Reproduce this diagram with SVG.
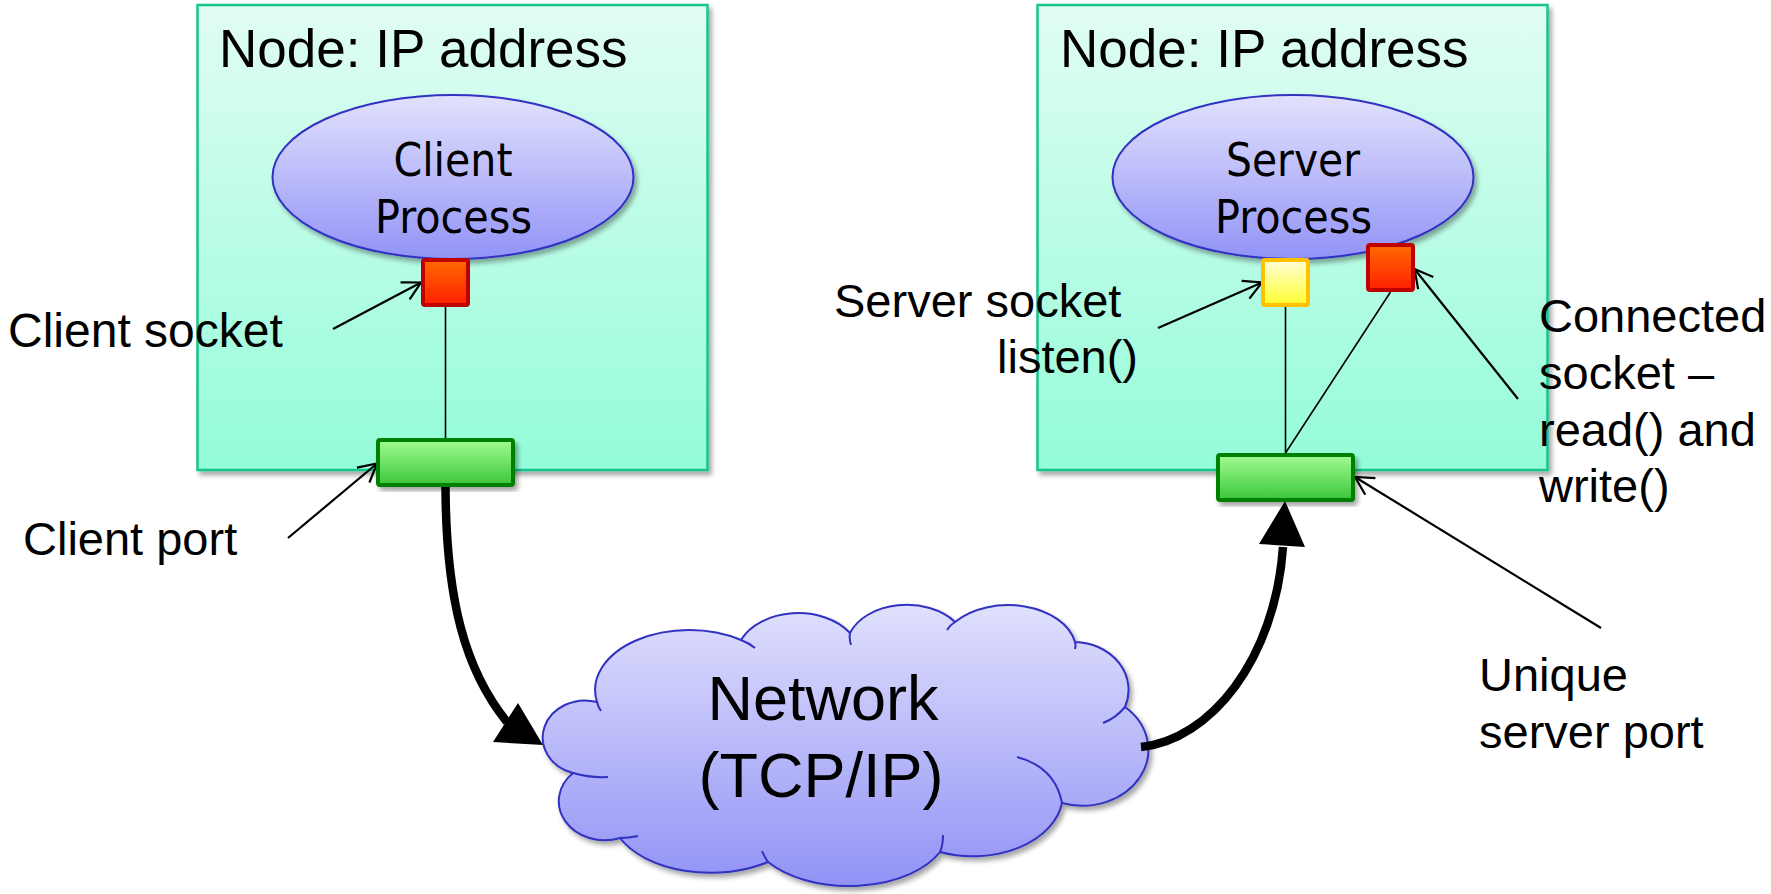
<svg xmlns="http://www.w3.org/2000/svg" width="1771" height="894" viewBox="0 0 1771 894">
  <defs>
    <linearGradient id="gBox" x1="0" y1="0" x2="0" y2="1">
      <stop offset="0" stop-color="#e1fdf3"/>
      <stop offset="1" stop-color="#93fcd8"/>
    </linearGradient>
    <linearGradient id="gProc" x1="0" y1="0" x2="0" y2="1">
      <stop offset="0" stop-color="#e2e2fd"/>
      <stop offset="1" stop-color="#9393f7"/>
    </linearGradient>
    <linearGradient id="gCloud" x1="0" y1="0" x2="0" y2="1">
      <stop offset="0" stop-color="#e0e0fd"/>
      <stop offset="1" stop-color="#9292f6"/>
    </linearGradient>
    <linearGradient id="gRed" x1="0" y1="0" x2="0" y2="1">
      <stop offset="0" stop-color="#ff6a00"/>
      <stop offset="1" stop-color="#ff2000"/>
    </linearGradient>
    <linearGradient id="gYel" x1="0" y1="0" x2="0" y2="1">
      <stop offset="0" stop-color="#ffffd8"/>
      <stop offset="1" stop-color="#ffff30"/>
    </linearGradient>
    <linearGradient id="gPort" x1="0" y1="0" x2="0" y2="1">
      <stop offset="0" stop-color="#a2fc92"/>
      <stop offset="1" stop-color="#3ac63a"/>
    </linearGradient>
    <filter id="shadow" x="-5%" y="-5%" width="115%" height="120%">
      <feGaussianBlur in="SourceAlpha" stdDeviation="2.5"/>
      <feOffset dx="3" dy="4" result="off"/>
      <feComponentTransfer>
        <feFuncA type="linear" slope="0.35"/>
      </feComponentTransfer>
      <feMerge>
        <feMergeNode/>
        <feMergeNode in="SourceGraphic"/>
      </feMerge>
    </filter>
    <marker id="open" markerUnits="userSpaceOnUse" viewBox="-21 -12 23 24" markerWidth="23" markerHeight="24" refX="0" refY="0" orient="auto" overflow="visible">
      <path d="M-18,-9.7 L0,0 L-18,9.7" fill="none" stroke="#000" stroke-width="2.2"/>
    </marker>
  </defs>
  <style>
    .box { fill: url(#gBox); stroke: #17c48e; stroke-width: 2.5; filter: url(#shadow); }
    .proc { fill: url(#gProc); stroke: #3030c2; stroke-width: 2; filter: url(#shadow); }
    .sock-red { fill: url(#gRed); stroke: #c00000; stroke-width: 4; }
    .sock-yel { fill: url(#gYel); stroke: #ffc000; stroke-width: 4; }
    .port { fill: url(#gPort); stroke: #008000; stroke-width: 4; filter: url(#shadow); }
    .cloud { fill: url(#gCloud); stroke: #3030c2; stroke-width: 2; filter: url(#shadow); }
    .cloud-inner { fill: none; stroke: #3030c2; stroke-width: 2; }
    .title { font-family: "Liberation Sans", Arial, sans-serif; font-size: 53px; fill: #000; }
    .lbl { font-family: "Liberation Sans", Arial, sans-serif; font-size: 47px; fill: #000; }
    .ptxt { font-family: "DejaVu Sans Condensed", "DejaVu Sans", sans-serif; font-size: 46px; text-anchor: middle; fill: #000; }
    .net { font-family: "Liberation Sans", Arial, sans-serif; font-size: 63px; text-anchor: middle; fill: #000; }
    .thin { stroke: #000; stroke-width: 1.6; fill: none; }
    .note { stroke: #000; stroke-width: 2.2; fill: none; marker-end: url(#open); }
    .flow { stroke: #000; stroke-width: 8.5; fill: none; }
  </style>

  <!-- client host -->
  <g id="client-node">
    <rect class="box" x="197.5" y="5" width="510" height="465"/>
    <text class="title" x="219" y="67">Node: IP address</text>
    <ellipse class="proc" cx="453" cy="177" rx="180.5" ry="82"/>
    <text class="ptxt" x="453" y="176" textLength="119" lengthAdjust="spacingAndGlyphs">Client</text>
    <text class="ptxt" x="453.5" y="233" textLength="157" lengthAdjust="spacingAndGlyphs">Process</text>
  </g>

  <!-- server host -->
  <g id="server-node">
    <rect class="box" x="1037.5" y="5" width="510" height="465"/>
    <text class="title" x="1060" y="67">Node: IP address</text>
    <ellipse class="proc" cx="1293" cy="177" rx="180.5" ry="82"/>
    <text class="ptxt" x="1293" y="176" textLength="134" lengthAdjust="spacingAndGlyphs">Server</text>
    <text class="ptxt" x="1293.5" y="233" textLength="157" lengthAdjust="spacingAndGlyphs">Process</text>
  </g>

  <!-- network cloud -->
  <g id="network">
    <path class="cloud" d="M597,702 A94,60 0 0 1 741,640 A62,44 0 0 1 850,633 A60,42 0 0 1 955,622 A68,45 0 0 1 1075,642 A55,48 0 0 1 1125,707 A66,56 0 0 1 1062,803 A90,62 0 0 1 940,852 A100,58 0 0 1 768,862 A100,60 0 0 1 620,838 A46,39 0 0 1 573,773 A40,35 0 0 1 597,702 Z"/>
    <path class="cloud-inner" d="M597,702 Q598,707 601,711 M741,640 Q749,643 755,648 M850,633 Q849,639 851,645 M955,622 Q950,625 947,630 M1075,642 Q1076,646 1075,649 M1125,707 Q1116,718 1103,723 M1017,757 Q1055,767 1062,803 M943,835 Q943,845 940,852 M768,862 Q764,856 762,851 M620,838 Q629,838 638,836 M573,773 Q590,778 608,777"/>
    <text class="net" x="823" y="720">Network</text>
    <text class="net" x="821" y="797">(TCP/IP)</text>
  </g>

  <!-- connectors -->
  <g id="connectors">
    <line class="thin" x1="445.5" y1="307" x2="445.5" y2="438"/>
    <line class="thin" x1="1285.5" y1="307" x2="1285.5" y2="453"/>
    <line class="thin" x1="1390.5" y1="292" x2="1285.5" y2="453"/>
    <path class="flow" d="M445.5,487 C446,600 465,670 507,722"/>
    <polygon points="493,742 518,703 543,745" fill="#000"/>
    <path class="flow" d="M1141,747 C1210,740 1275,660 1283,547"/>
    <polygon points="1259,544 1305,547 1285,501" fill="#000"/>
    <line class="note" x1="333" y1="329" x2="421" y2="282.5"/>
    <line class="note" x1="288" y1="538" x2="377" y2="463.5"/>
    <line class="note" x1="1158" y1="328" x2="1262" y2="282.5"/>
    <line class="note" x1="1518" y1="399" x2="1414.5" y2="269"/>
    <line class="note" x1="1601" y1="628" x2="1355" y2="477"/>
  </g>

  <!-- sockets and ports -->
  <g id="client-socket">
    <rect class="sock-red" x="423" y="260" width="45" height="45" rx="2"/>
  </g>
  <g id="client-port">
    <rect class="port" x="378" y="440" width="135" height="45" rx="2"/>
  </g>
  <g id="server-listen-socket">
    <rect class="sock-yel" x="1263" y="260" width="45" height="45" rx="2"/>
  </g>
  <g id="server-connected-socket">
    <rect class="sock-red" x="1368" y="245" width="45" height="45" rx="2"/>
  </g>
  <g id="server-port">
    <rect class="port" x="1218" y="455" width="135" height="45" rx="2"/>
  </g>

  <!-- annotations -->
  <g id="labels">
    <text class="lbl" x="8" y="347" style="font-size:48px">Client socket</text>
    <text class="lbl" x="23" y="555">Client port</text>
    <text class="lbl" x="834" y="317">Server socket</text>
    <text class="lbl" x="997" y="373">listen()</text>
    <text class="lbl" x="1539" y="332">Connected</text>
    <text class="lbl" x="1539" y="389">socket –</text>
    <text class="lbl" x="1539" y="446">read() and</text>
    <text class="lbl" x="1539" y="502">write()</text>
    <text class="lbl" x="1479" y="691">Unique</text>
    <text class="lbl" x="1479" y="748">server port</text>
  </g>
</svg>
